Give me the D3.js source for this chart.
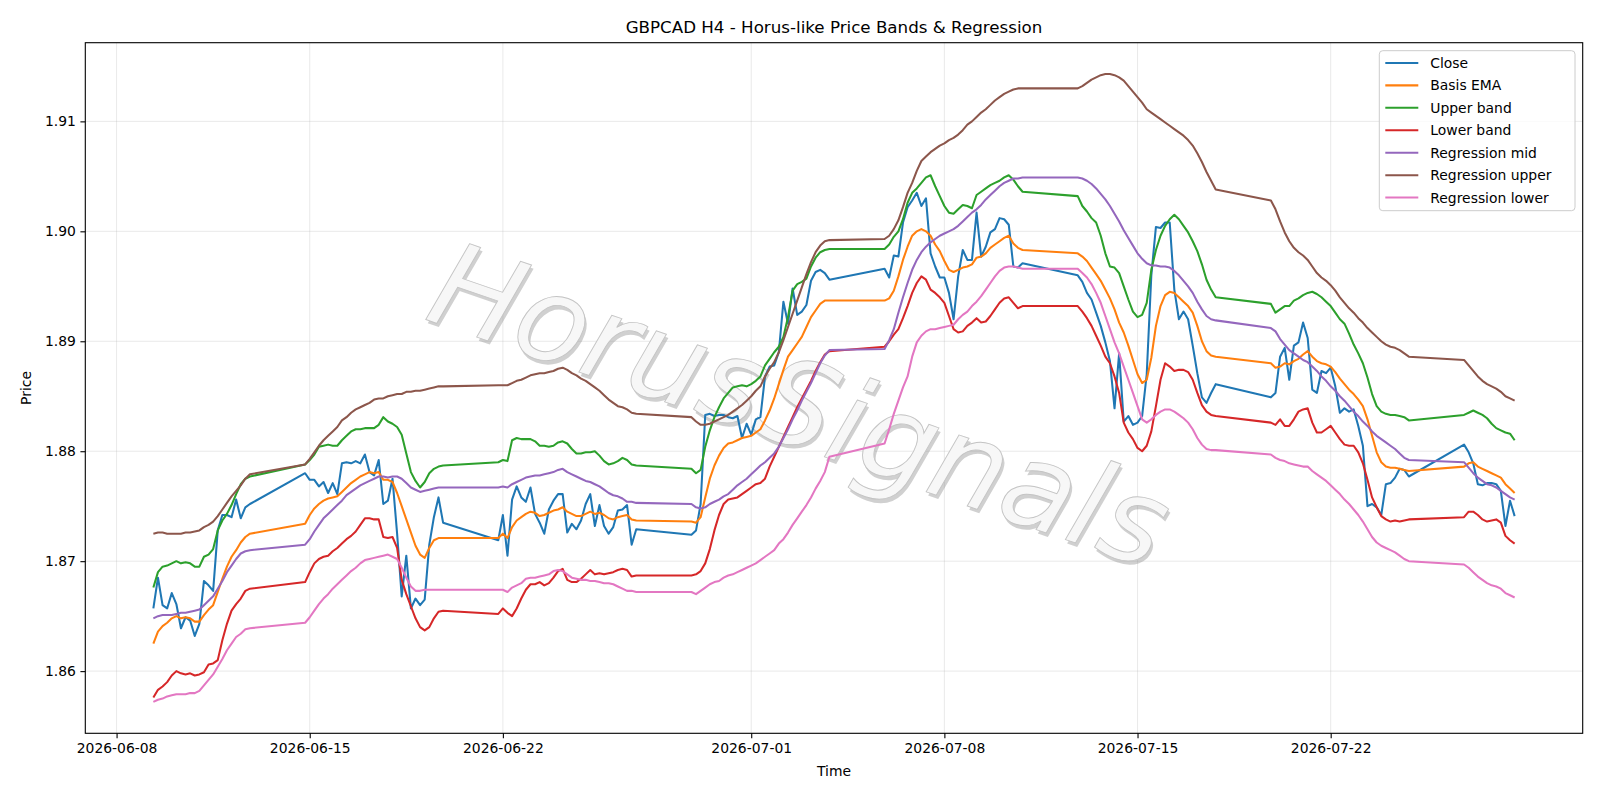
<!DOCTYPE html>
<html>
<head>
<meta charset="utf-8">
<script src="https://cdn.jsdelivr.net/npm/d3@7/dist/d3.min.js"></script>
<style>
  html, body { margin: 0; padding: 0; background: #fff; }
  svg { display: block; font-family: "DejaVu Sans", sans-serif; }
</style>
</head>
<body>
<div id="chart"></div>
<script>
'use strict';

// trading sessions (UTC), H4 bars inside each one
var sessionBounds = [
  ["2026-06-09T08:00Z", "2026-06-12T20:00Z"],
  ["2026-06-14T20:00Z", "2026-06-19T20:00Z"],
  ["2026-06-21T20:00Z", "2026-06-26T20:00Z"],
  ["2026-06-28T20:00Z", "2026-07-03T20:00Z"],
  ["2026-07-05T20:00Z", "2026-07-10T20:00Z"],
  ["2026-07-12T20:00Z", "2026-07-17T20:00Z"],
  ["2026-07-19T20:00Z", "2026-07-24T20:00Z"],
  ["2026-07-26T20:00Z", "2026-07-28T16:00Z"]
];

var closeVals = [
  1.8657,1.8685,1.8660,1.8657,1.8671,1.8661,1.8639,1.8649,1.8646,1.8632,1.8643,1.8682,1.8678,1.8673,1.8728,1.8742,1.8742,1.8740,1.8756,1.8739,1.8749,1.8752,
  1.8780,1.8774,1.8774,1.8768,1.8772,1.8762,1.8771,1.8761,1.8789,1.8790,1.8789,1.8791,1.8789,1.8797,1.8781,1.8778,1.8792,1.8752,1.8755,1.8775,1.8725,1.8668,1.8705,1.8657,1.8666,1.8660,1.8665,1.8715,1.8740,1.8758,1.8735,
  1.8719,1.8742,1.8705,1.8756,1.8768,1.8758,1.8754,1.8767,1.8743,1.8735,1.8725,1.8747,1.8755,1.8761,1.8761,1.8726,1.8734,1.8729,1.8737,1.8752,1.8761,1.8732,1.8751,1.8732,1.8725,1.8731,1.8746,1.8747,1.8751,1.8715,1.8729,
  1.8724,1.8728,1.8752,1.8833,1.8834,1.8832,1.8833,1.8833,1.8831,1.8830,1.8832,1.8812,1.8825,1.8815,1.8829,1.8831,1.8868,1.8877,1.8878,1.8890,1.8936,1.8916,1.8948,1.8924,1.8927,1.8933,1.8955,1.8963,1.8965,1.8962,1.8956,
  1.8966,1.8958,1.8978,1.8977,1.9008,1.9022,1.9028,1.9035,1.9023,1.9030,1.8980,1.8968,1.8958,1.8958,1.8944,1.8920,1.8959,1.8983,1.8974,1.8974,1.9017,1.8977,1.8986,1.8999,1.9002,1.9012,1.9011,1.9006,1.8968,1.8967,1.8971,
  1.8960,1.8954,1.8944,1.8938,1.8926,1.8914,1.8899,1.8882,1.8839,1.8889,1.8827,1.8832,1.8824,1.8826,1.8832,1.8870,1.8960,1.9004,1.9003,1.9008,1.9008,1.8947,1.8920,1.8927,1.8920,1.8896,1.8871,1.8849,1.8844,1.8853,1.8861,
  1.8849,1.8853,1.8886,1.8894,1.8865,1.8896,1.8899,1.8917,1.8903,1.8856,1.8853,1.8873,1.8871,1.8876,1.8859,1.8835,1.8839,1.8836,1.8838,1.8823,1.8805,1.8750,1.8752,1.8749,1.8742,1.8770,1.8771,1.8776,1.8784,1.8783,1.8777,
  1.8806,1.8799,1.8789,1.8770,1.8769,1.8771,1.8771,1.8770,1.8764,1.8732,1.8755,1.8741
];

var basisVals = [
  1.8625,1.8636,1.8641,1.8644,1.8648,1.8650,1.8648,1.8649,1.8648,1.8645,1.8645,1.8651,1.8656,1.8660,1.8672,1.8684,1.8695,1.8704,1.8710,1.8717,1.8722,1.8725,
  1.8734,1.8742,1.8748,1.8752,1.8755,1.8757,1.8758,1.8759,1.8763,1.8767,1.8771,1.8774,1.8777,1.8779,1.8781,1.8780,1.8781,1.8774,1.8774,1.8772,1.8762,1.8750,1.8738,1.8726,1.8714,1.8706,1.8703,1.8712,1.8719,1.8721,1.8721,
  1.8721,1.8725,1.8721,1.8731,1.8737,1.8740,1.8743,1.8745,1.8744,1.8741,1.8742,1.8744,1.8746,1.8747,1.8749,1.8745,1.8743,1.8741,1.8741,1.8743,1.8745,1.8743,1.8744,1.8742,1.8739,1.8738,1.8740,1.8741,1.8742,1.8738,1.8737,
  1.8736,1.8735,1.8740,1.8758,1.8775,1.8787,1.8796,1.8803,1.8807,1.8808,1.8810,1.8812,1.8813,1.8814,1.8817,1.8820,1.8828,1.8837,1.8848,1.8861,1.8874,1.8886,1.8892,1.8898,1.8904,1.8913,1.8922,1.8928,1.8934,1.8937,1.8937,
  1.8937,1.8939,1.8946,1.8959,1.8974,1.8986,1.8996,1.9000,1.9002,1.9000,1.8996,1.8988,1.8982,1.8973,1.8965,1.8963,1.8965,1.8967,1.8968,1.8970,1.8976,1.8977,1.8980,1.8985,1.8988,1.8991,1.8994,1.8996,1.8989,1.8985,1.8983,
  1.8980,1.8977,1.8973,1.8967,1.8961,1.8955,1.8947,1.8939,1.8929,1.8917,1.8908,1.8896,1.8883,1.8870,1.8862,1.8865,1.8885,1.8914,1.8932,1.8942,1.8945,1.8944,1.8940,1.8936,1.8932,1.8926,1.8914,1.8900,1.8891,1.8887,1.8886,
  1.8880,1.8876,1.8877,1.8880,1.8879,1.8882,1.8884,1.8888,1.8891,1.8886,1.8882,1.8880,1.8879,1.8877,1.8872,1.8866,1.8861,1.8856,1.8852,1.8847,1.8841,1.8829,1.8814,1.8799,1.8790,1.8786,1.8785,1.8785,1.8784,1.8783,1.8782,
  1.8786,1.8789,1.8790,1.8786,1.8784,1.8782,1.8780,1.8778,1.8776,1.8770,1.8766,1.8762
];

var upperVals = [
  1.8676,1.8690,1.8695,1.8696,1.8698,1.8700,1.8698,1.8699,1.8698,1.8695,1.8695,1.8704,1.8706,1.8711,1.8728,1.8737,1.8743,1.8751,1.8761,1.8770,1.8775,1.8777,
  1.8788,1.8792,1.8797,1.8804,1.8805,1.8806,1.8805,1.8805,1.8810,1.8814,1.8818,1.8820,1.8820,1.8821,1.8821,1.8821,1.8824,1.8831,1.8827,1.8825,1.8822,1.8815,1.8798,1.8781,1.8773,1.8767,1.8772,1.8780,1.8784,1.8786,1.8787,
  1.8790,1.8792,1.8791,1.8810,1.8812,1.8811,1.8811,1.8811,1.8809,1.8805,1.8805,1.8804,1.8805,1.8808,1.8809,1.8807,1.8802,1.8798,1.8798,1.8799,1.8799,1.8800,1.8796,1.8791,1.8788,1.8789,1.8791,1.8794,1.8792,1.8788,1.8787,
  1.8784,1.8780,1.8783,1.8804,1.8819,1.8831,1.8840,1.8848,1.8853,1.8858,1.8859,1.8860,1.8859,1.8861,1.8864,1.8868,1.8878,1.8884,1.8890,1.8895,1.8904,1.8922,1.8946,1.8952,1.8954,1.8957,1.8968,1.8976,1.8981,1.8983,1.8984,
  1.8984,1.8988,1.8995,1.9000,1.9011,1.9026,1.9035,1.9039,1.9044,1.9049,1.9051,1.9041,1.9032,1.9023,1.9017,1.9016,1.9020,1.9024,1.9023,1.9021,1.9033,1.9036,1.9039,1.9042,1.9044,1.9046,1.9049,1.9051,1.9047,1.9041,1.9036,
  1.9032,1.9023,1.9018,1.9012,1.9008,1.8996,1.8980,1.8968,1.8967,1.8962,1.8950,1.8938,1.8927,1.8922,1.8924,1.8935,1.8965,1.8983,1.8996,1.9005,1.9011,1.9015,1.9011,1.9005,1.8999,1.8991,1.8982,1.8970,1.8956,1.8947,1.8940,
  1.8934,1.8926,1.8929,1.8932,1.8932,1.8937,1.8939,1.8942,1.8944,1.8945,1.8943,1.8940,1.8936,1.8932,1.8926,1.8920,1.8916,1.8907,1.8897,1.8889,1.8880,1.8867,1.8852,1.8841,1.8836,1.8834,1.8833,1.8833,1.8832,1.8831,1.8828,
  1.8833,1.8835,1.8837,1.8835,1.8833,1.8830,1.8825,1.8821,1.8819,1.8817,1.8816,1.8810
];

var lowerVals = [
  1.8576,1.8583,1.8586,1.8590,1.8596,1.8600,1.8598,1.8597,1.8598,1.8596,1.8597,1.8599,1.8606,1.8607,1.8610,1.8628,1.8643,1.8655,1.8661,1.8666,1.8673,1.8675,
  1.8681,1.8690,1.8698,1.8702,1.8704,1.8705,1.8709,1.8712,1.8716,1.8720,1.8723,1.8727,1.8733,1.8739,1.8739,1.8738,1.8738,1.8722,1.8721,1.8722,1.8712,1.8683,1.8670,1.8659,1.8648,1.8640,1.8637,1.8640,1.8648,1.8654,1.8655,
  1.8652,1.8657,1.8653,1.8650,1.8657,1.8666,1.8674,1.8679,1.8679,1.8681,1.8678,1.8680,1.8685,1.8691,1.8693,1.8683,1.8681,1.8681,1.8684,1.8688,1.8692,1.8688,1.8689,1.8688,1.8689,1.8690,1.8692,1.8693,1.8692,1.8686,1.8687,
  1.8687,1.8688,1.8691,1.8698,1.8711,1.8728,1.8742,1.8752,1.8756,1.8757,1.8758,1.8761,1.8764,1.8767,1.8770,1.8771,1.8775,1.8786,1.8795,1.8804,1.8813,1.8822,1.8831,1.8840,1.8848,1.8856,1.8864,1.8873,1.8881,1.8888,1.8891,
  1.8895,1.8900,1.8906,1.8911,1.8921,1.8932,1.8944,1.8953,1.8959,1.8956,1.8947,1.8944,1.8940,1.8935,1.8923,1.8911,1.8908,1.8909,1.8914,1.8917,1.8921,1.8917,1.8918,1.8923,1.8929,1.8935,1.8939,1.8940,1.8935,1.8930,1.8932,
  1.8932,1.8927,1.8921,1.8914,1.8905,1.8896,1.8886,1.8880,1.8868,1.8853,1.8826,1.8817,1.8811,1.8803,1.8800,1.8805,1.8818,1.8841,1.8865,1.8880,1.8877,1.8873,1.8874,1.8874,1.8872,1.8865,1.8853,1.8842,1.8836,1.8833,1.8832,
  1.8826,1.8824,1.8829,1.8823,1.8823,1.8829,1.8836,1.8838,1.8839,1.8826,1.8817,1.8817,1.8820,1.8823,1.8817,1.8811,1.8806,1.8805,1.8805,1.8799,1.8789,1.8774,1.8758,1.8749,1.8741,1.8738,1.8736,1.8737,1.8736,1.8737,1.8738,
  1.8740,1.8745,1.8745,1.8742,1.8738,1.8736,1.8737,1.8738,1.8735,1.8723,1.8719,1.8716
];

var regMidVals = [
  1.8648,1.8650,1.8651,1.8651,1.8651,1.8652,1.8653,1.8653,1.8654,1.8655,1.8656,1.8660,1.8664,1.8668,1.8675,1.8682,1.8690,1.8696,1.8702,1.8707,1.8709,1.8710,
  1.8715,1.8720,1.8727,1.8733,1.8739,1.8743,1.8747,1.8751,1.8755,1.8760,1.8763,1.8766,1.8769,1.8771,1.8773,1.8775,1.8777,1.8777,1.8776,1.8777,1.8777,1.8775,1.8771,1.8767,1.8765,1.8763,1.8764,1.8765,1.8766,1.8767,1.8767,
  1.8767,1.8768,1.8767,1.8770,1.8772,1.8774,1.8776,1.8777,1.8778,1.8778,1.8779,1.8780,1.8781,1.8783,1.8784,1.8781,1.8779,1.8777,1.8775,1.8773,1.8772,1.8770,1.8768,1.8765,1.8762,1.8760,1.8759,1.8757,1.8754,1.8754,1.8753,
  1.8752,1.8749,1.8748,1.8749,1.8752,1.8754,1.8756,1.8759,1.8761,1.8765,1.8769,1.8772,1.8775,1.8779,1.8783,1.8787,1.8790,1.8794,1.8798,1.8804,1.8812,1.8820,1.8829,1.8837,1.8846,1.8854,1.8862,1.8871,1.8880,1.8887,1.8892,
  1.8893,1.8901,1.8911,1.8926,1.8940,1.8953,1.8965,1.8974,1.8981,1.8986,1.8990,1.8993,1.8996,1.8998,1.9000,1.9002,1.9005,1.9009,1.9013,1.9017,1.9020,1.9024,1.9029,1.9033,1.9037,1.9041,1.9044,1.9046,1.9048,1.9048,1.9049,
  1.9049,1.9048,1.9046,1.9043,1.9039,1.9034,1.9029,1.9023,1.9016,1.9009,1.9001,1.8994,1.8987,1.8980,1.8975,1.8971,1.8969,1.8969,1.8968,1.8968,1.8967,1.8964,1.8960,1.8955,1.8950,1.8944,1.8936,1.8929,1.8923,1.8920,1.8919,
  1.8912,1.8909,1.8902,1.8897,1.8892,1.8889,1.8886,1.8883,1.8881,1.8877,1.8873,1.8868,1.8864,1.8859,1.8855,1.8850,1.8846,1.8841,1.8836,1.8832,1.8827,1.8823,1.8818,1.8814,1.8811,1.8808,1.8805,1.8802,1.8798,1.8794,1.8792,
  1.8790,1.8785,1.8780,1.8776,1.8773,1.8770,1.8769,1.8767,1.8764,1.8761,1.8758,1.8756
];

var regUpperVals = [
  1.8725,1.8726,1.8726,1.8725,1.8725,1.8725,1.8725,1.8726,1.8726,1.8727,1.8728,1.8731,1.8733,1.8736,1.8741,1.8747,1.8753,1.8759,1.8764,1.8769,1.8775,1.8779,
  1.8788,1.8793,1.8799,1.8805,1.8810,1.8814,1.8818,1.8822,1.8828,1.8831,1.8835,1.8838,1.8840,1.8842,1.8844,1.8847,1.8848,1.8848,1.8850,1.8851,1.8852,1.8852,1.8854,1.8854,1.8855,1.8855,1.8856,1.8857,1.8858,1.8859,1.8859,
  1.8860,1.8860,1.8860,1.8862,1.8864,1.8865,1.8867,1.8869,1.8870,1.8871,1.8871,1.8872,1.8873,1.8875,1.8876,1.8874,1.8871,1.8869,1.8866,1.8864,1.8861,1.8858,1.8855,1.8851,1.8847,1.8844,1.8841,1.8840,1.8838,1.8835,1.8834,
  1.8831,1.8827,1.8824,1.8824,1.8825,1.8827,1.8829,1.8831,1.8833,1.8836,1.8839,1.8842,1.8846,1.8850,1.8855,1.8859,1.8868,1.8875,1.8881,1.8890,1.8901,1.8913,1.8925,1.8937,1.8949,1.8961,1.8972,1.8981,1.8987,1.8991,1.8992,
  1.8993,1.8996,1.9002,1.9010,1.9022,1.9035,1.9044,1.9055,1.9064,1.9068,1.9072,1.9075,1.9078,1.9080,1.9083,1.9085,1.9088,1.9092,1.9097,1.9100,1.9104,1.9108,1.9111,1.9115,1.9119,1.9122,1.9125,1.9127,1.9129,1.9130,1.9130,
  1.9130,1.9132,1.9135,1.9138,1.9140,1.9142,1.9143,1.9143,1.9142,1.9140,1.9137,1.9132,1.9127,1.9122,1.9117,1.9111,1.9108,1.9105,1.9102,1.9099,1.9096,1.9093,1.9090,1.9087,1.9083,1.9078,1.9071,1.9063,1.9054,1.9046,1.9038,
  1.9028,1.9020,1.9009,1.8999,1.8991,1.8985,1.8981,1.8978,1.8974,1.8968,1.8962,1.8958,1.8955,1.8951,1.8946,1.8940,1.8935,1.8930,1.8926,1.8921,1.8917,1.8912,1.8908,1.8904,1.8900,1.8897,1.8895,1.8894,1.8892,1.8889,1.8886,
  1.8883,1.8878,1.8873,1.8868,1.8864,1.8861,1.8859,1.8857,1.8854,1.8850,1.8848,1.8846
];

var regLowerVals = [
  1.8572,1.8574,1.8575,1.8577,1.8578,1.8579,1.8579,1.8579,1.8580,1.8580,1.8582,1.8587,1.8592,1.8597,1.8604,1.8611,1.8619,1.8625,1.8631,1.8634,1.8638,1.8639,
  1.8644,1.8649,1.8655,1.8661,1.8666,1.8670,1.8675,1.8679,1.8683,1.8687,1.8691,1.8694,1.8698,1.8701,1.8702,1.8703,1.8704,1.8705,1.8706,1.8704,1.8702,1.8694,1.8685,1.8677,1.8673,1.8673,1.8674,1.8674,1.8674,1.8674,1.8674,
  1.8674,1.8674,1.8672,1.8676,1.8678,1.8680,1.8684,1.8685,1.8685,1.8686,1.8687,1.8688,1.8691,1.8692,1.8691,1.8688,1.8685,1.8684,1.8683,1.8683,1.8682,1.8682,1.8681,1.8680,1.8680,1.8679,1.8677,1.8675,1.8673,1.8673,1.8672,
  1.8672,1.8670,1.8673,1.8676,1.8679,1.8681,1.8682,1.8685,1.8687,1.8688,1.8690,1.8692,1.8694,1.8696,1.8698,1.8701,1.8704,1.8707,1.8710,1.8716,1.8720,1.8726,1.8733,1.8739,1.8745,1.8751,1.8758,1.8766,1.8773,1.8781,1.8795,
  1.8807,1.8820,1.8834,1.8846,1.8858,1.8868,1.8886,1.8899,1.8905,1.8909,1.8911,1.8911,1.8912,1.8913,1.8914,1.8915,1.8920,1.8924,1.8927,1.8932,1.8936,1.8941,1.8947,1.8953,1.8959,1.8964,1.8967,1.8968,1.8968,1.8967,1.8966,
  1.8966,1.8962,1.8958,1.8952,1.8944,1.8935,1.8923,1.8911,1.8899,1.8889,1.8877,1.8865,1.8853,1.8841,1.8829,1.8826,1.8829,1.8833,1.8836,1.8838,1.8838,1.8836,1.8833,1.8830,1.8826,1.8820,1.8812,1.8806,1.8802,1.8801,1.8801,
  1.8797,1.8794,1.8792,1.8791,1.8789,1.8788,1.8787,1.8786,1.8786,1.8782,1.8779,1.8776,1.8773,1.8769,1.8765,1.8761,1.8756,1.8752,1.8747,1.8742,1.8736,1.8729,1.8722,1.8717,1.8714,1.8712,1.8710,1.8708,1.8705,1.8702,1.8700,
  1.8697,1.8694,1.8690,1.8686,1.8683,1.8680,1.8678,1.8677,1.8675,1.8671,1.8669,1.8667
];

var seriesNames = ["Close", "Basis EMA", "Upper band", "Lower band", "Regression mid", "Regression upper", "Regression lower"];
var seriesColors = ["#1f77b4", "#ff7f0e", "#2ca02c", "#d62728", "#9467bd", "#8c564b", "#e377c2"];
var seriesVals = [closeVals, basisVals, upperVals, lowerVals, regMidVals, regUpperVals, regLowerVals];

var xTickDates = ["2026-06-08", "2026-06-15", "2026-06-22", "2026-07-01", "2026-07-08", "2026-07-15", "2026-07-22"];

var titleText = "GBPCAD H4 - Horus-like Price Bands & Regression";
var watermarkText = "HorusSignals";

// ---- layout
var width = 1600, height = 800;
var margin = {left: 85.3, top: 42.7, right: 1600 - 1582.7, bottom: 800 - 733.3};
var plotW = width - margin.left - margin.right,
  plotH = height - margin.top - margin.bottom;

// bar times, 4h steps inside each session
var every4h = d3.utcHour.every(4);
var times = [];
sessionBounds.forEach(function (s) {
  var a = new Date(s[0]), b = new Date(s[1]);
  times = times.concat(every4h.range(a, d3.utcHour.offset(b, 1)));
});

// matplotlib-like 5% margins
var tExt = d3.extent(times);
var tPad = (tExt[1] - tExt[0]) * 0.05;
var allVals = d3.merge(seriesVals);
var vExt = d3.extent(allVals);
var vPad = (vExt[1] - vExt[0]) * 0.05;

var x = d3.scaleUtc()
  .domain([new Date(+tExt[0] - tPad), new Date(+tExt[1] + tPad)])
  .range([margin.left, margin.left + plotW]);
var y = d3.scaleLinear()
  .domain([vExt[0] - vPad, vExt[1] + vPad])
  .range([margin.top + plotH, margin.top]);

var svg = d3.select("#chart").append("svg")
  .attr("width", width)
  .attr("height", height);

svg.append("rect").attr("width", width).attr("height", height).attr("fill", "#fff");

// grid
var xTicks = xTickDates.map(function (d) { return new Date(d + "T00:00Z"); });
var yTicks = y.ticks(6);

var grid = svg.append("g").attr("class", "grid");
grid.selectAll("line.gx").data(xTicks).enter().append("line")
  .attr("x1", function (d) { return x(d); })
  .attr("x2", function (d) { return x(d); })
  .attr("y1", margin.top).attr("y2", margin.top + plotH)
  .attr("stroke", "#b0b0b0").attr("stroke-opacity", 0.35).attr("stroke-width", 0.8);
grid.selectAll("line.gy").data(yTicks).enter().append("line")
  .attr("y1", function (d) { return y(d); })
  .attr("y2", function (d) { return y(d); })
  .attr("x1", margin.left).attr("x2", margin.left + plotW)
  .attr("stroke", "#b0b0b0").attr("stroke-opacity", 0.35).attr("stroke-width", 0.8);

// watermark, kept under the lines
var wm = svg.append("g")
  .attr("transform", "translate(800,405) rotate(19)")
  .style("font-size", "118px").style("font-style", "italic");
wm.append("text")
  .attr("x", 3).attr("y", 3)
  .attr("text-anchor", "middle").attr("dominant-baseline", "central")
  .attr("fill", "#8a8a8a").attr("fill-opacity", 0.4)
  .text(watermarkText);
wm.append("text")
  .attr("text-anchor", "middle").attr("dominant-baseline", "central")
  .attr("fill", "#f7f7f7")
  .attr("stroke", "#c4c4c4").attr("stroke-width", 0.9)
  .text(watermarkText);

// series lines
var line = d3.line()
  .x(function (d, i) { return x(times[i]); })
  .y(function (d) { return y(d); });

var lines = svg.append("g").attr("class", "lines");
seriesVals.forEach(function (vals, k) {
  lines.append("path")
    .datum(vals.slice(0, times.length))
    .attr("d", line)
    .attr("fill", "none")
    .attr("stroke", seriesColors[k])
    .attr("stroke-width", 2.05)
    .attr("stroke-linejoin", "round");
});

// axes
var xAxis = d3.axisBottom(x).tickValues(xTicks).tickFormat(d3.utcFormat("%Y-%m-%d"))
  .tickSize(4.9).tickPadding(4.5);
var yAxis = d3.axisLeft(y).tickValues(yTicks).tickFormat(d3.format(".2f"))
  .tickSize(4.9).tickPadding(4.5);

var gx = svg.append("g")
  .attr("transform", "translate(0," + (margin.top + plotH) + ")")
  .call(xAxis);
var gy = svg.append("g")
  .attr("transform", "translate(" + margin.left + ",0)")
  .call(yAxis);

[gx, gy].forEach(function (g) {
  g.select(".domain").remove();
  g.selectAll(".tick line").attr("stroke", "#000").attr("stroke-width", 1.1);
  g.selectAll(".tick text").attr("fill", "#000")
    .style("font-family", "DejaVu Sans").style("font-size", "13.9px");
});

// frame
svg.append("rect")
  .attr("x", margin.left).attr("y", margin.top)
  .attr("width", plotW).attr("height", plotH)
  .attr("fill", "none").attr("stroke", "#000").attr("stroke-width", 1.1);

// labels
svg.append("text")
  .attr("x", margin.left + plotW / 2).attr("y", 33)
  .attr("text-anchor", "middle")
  .style("font-size", "16.7px")
  .text(titleText);

svg.append("text")
  .attr("x", margin.left + plotW / 2).attr("y", 776)
  .attr("text-anchor", "middle")
  .style("font-size", "13.9px")
  .text("Time");

svg.append("text")
  .attr("transform", "translate(31," + (margin.top + plotH / 2) + ") rotate(-90)")
  .attr("text-anchor", "middle")
  .style("font-size", "13.9px")
  .text("Price");

// legend
var lg = svg.append("g").attr("transform", "translate(1379.3,50.7)");
lg.append("rect")
  .attr("width", 195.7).attr("height", 160)
  .attr("rx", 3.5).attr("ry", 3.5)
  .attr("fill", "#fff").attr("fill-opacity", 0.8)
  .attr("stroke", "#cccccc").attr("stroke-width", 1);

var rows = lg.selectAll("g.row").data(seriesNames).enter().append("g")
  .attr("transform", function (d, i) { return "translate(0," + (12.2 + i * 22.45) + ")"; });
rows.append("line")
  .attr("x1", 6).attr("x2", 39)
  .attr("stroke", function (d, i) { return seriesColors[i]; })
  .attr("stroke-width", 2.05);
rows.append("text")
  .attr("x", 51).attr("y", 0).attr("dy", "0.36em")
  .style("font-size", "13.9px")
  .text(function (d) { return d; });
</script>
</body>
</html>
